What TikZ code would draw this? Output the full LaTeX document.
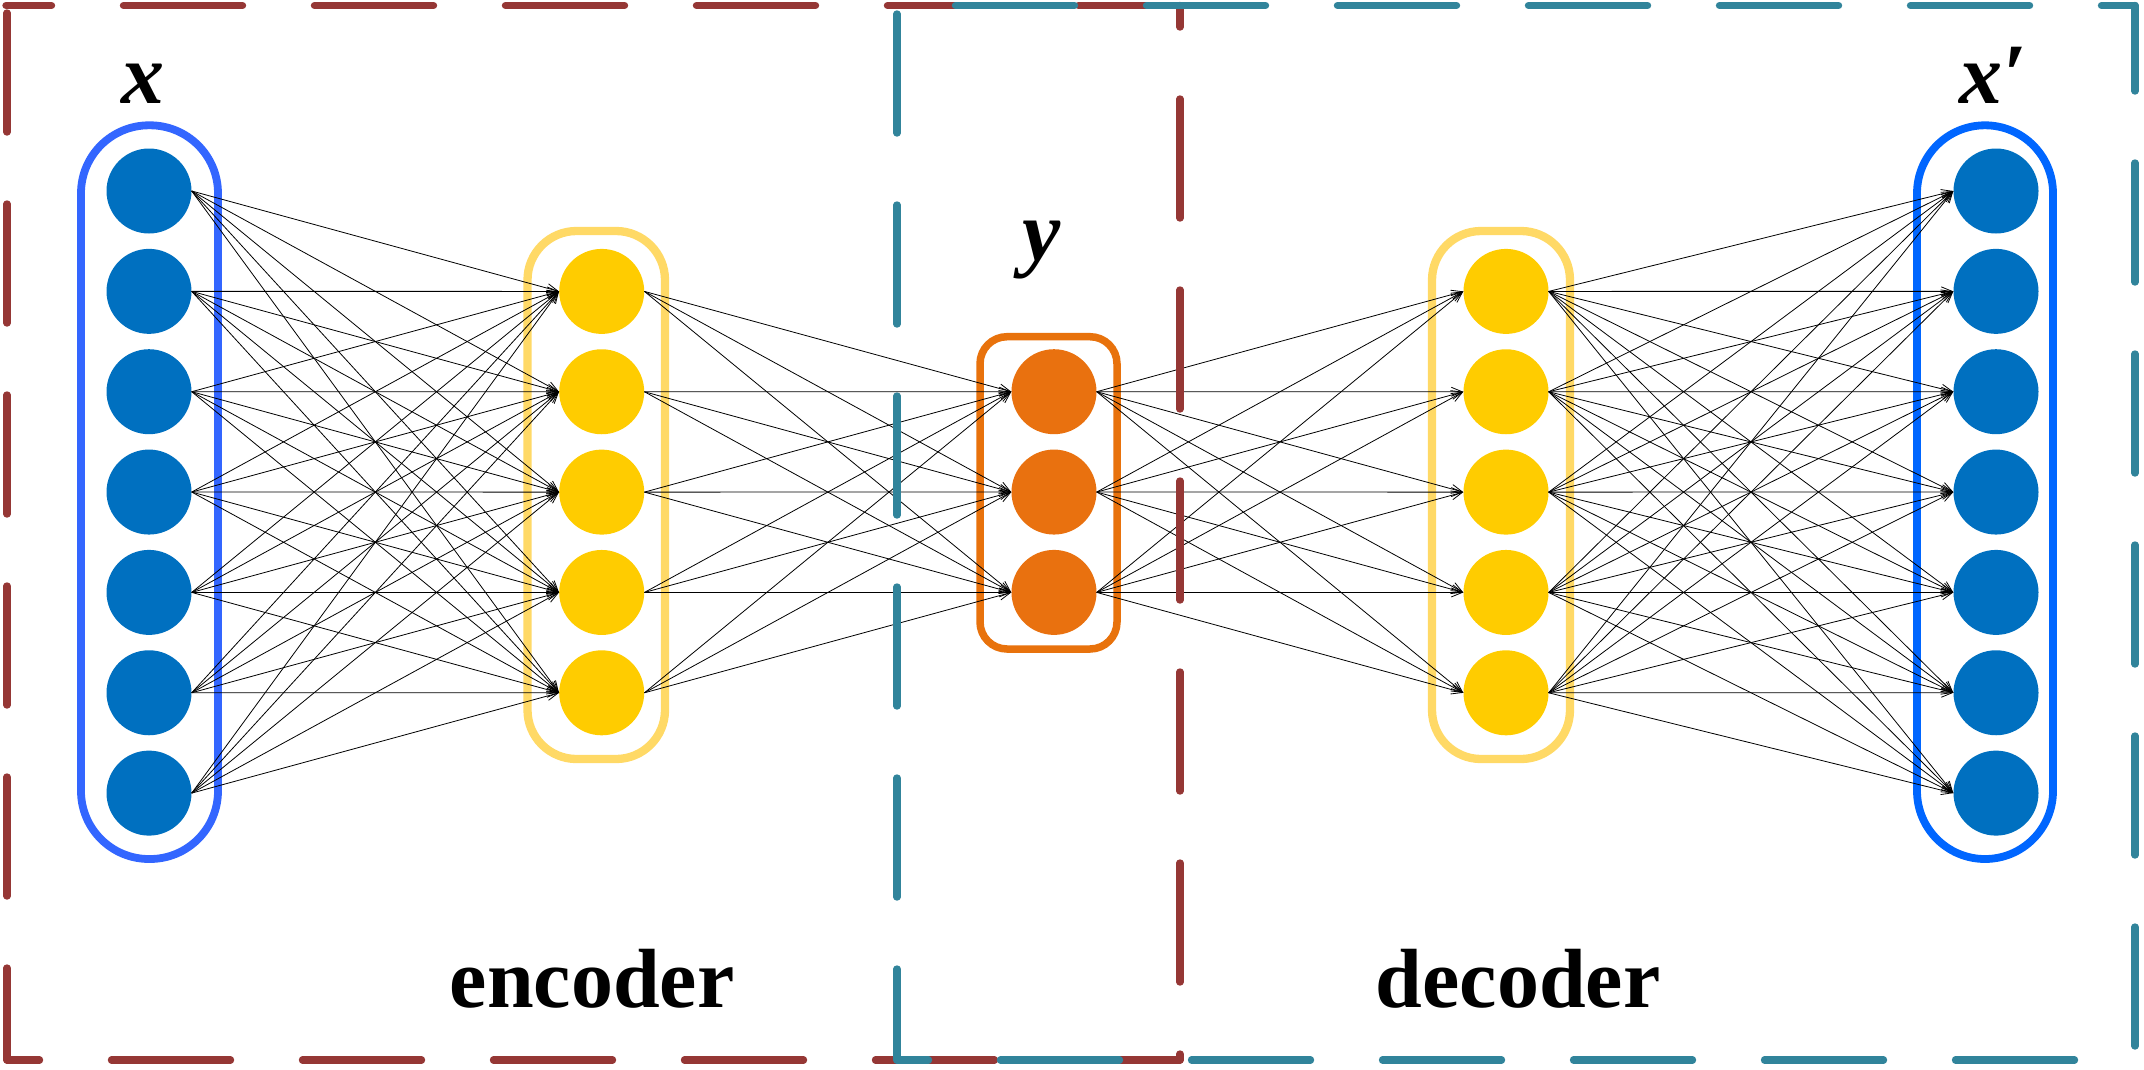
\documentclass[tikz,border=0pt]{standalone}
\usepackage{fontspec}
\setmainfont{Liberation Serif}
\usetikzlibrary{arrows.meta}
\definecolor{frRed}{HTML}{953735}
\definecolor{frTeal}{HTML}{31849B}
\definecolor{nBlue}{HTML}{0070C0}
\definecolor{capL}{HTML}{3366FF}
\definecolor{capR}{HTML}{0066FF}
\definecolor{nYel}{HTML}{FFCC00}
\definecolor{capY}{HTML}{FFD966}
\definecolor{nOra}{HTML}{E9710F}
\definecolor{capO}{HTML}{E8720C}
\begin{document}
\begin{tikzpicture}[x=1pt,y=-1pt,
  neuron/.style={circle,minimum size=85pt,inner sep=0pt,draw=none},
  capsule/.style={line width=7.8pt},
  edge/.style={line width=0.8pt,black,-{Straight Barb[length=11pt,width=9pt]}},
  dsh/.style={line width=7.4pt,line cap=round,dash pattern=on 119pt off 72pt},
  lbl/.style={font=\fontsize{86}{86}\selectfont\bfseries\itshape,anchor=base,inner sep=0pt},
  part/.style={font=\fontsize{84}{84}\selectfont\bfseries,anchor=base,inner sep=0pt}]
\useasboundingbox (0,0) rectangle (2144,1069);
% capsules
\draw[capsule,capL,rounded corners=68pt] (81,125.3) rectangle (218,859);
\draw[capsule,capY,line width=8.3pt,rounded corners=49pt] (527.5,231) rectangle (665,759);
\draw[capsule,capO,line width=7.5pt,rounded corners=27pt] (980,336.7) rectangle (1117,649);
\draw[capsule,capY,line width=8.3pt,rounded corners=49pt] (1432,231) rectangle (1570,759);
\draw[capsule,capR,rounded corners=68pt] (1917,125.3) rectangle (2053,859);
% neurons
\foreach \i in {1,...,7}{
  \node[neuron,fill=nBlue] (in\i) at (149,{191+100.35*(\i-1)}) {};
  \node[neuron,fill=nBlue] (out\i) at (1996,{191+100.35*(\i-1)}) {};
}
\foreach \i in {1,...,5}{
  \node[neuron,fill=nYel] (eh\i) at (601.7,{291.4+100.35*(\i-1)}) {};
  \node[neuron,fill=nYel] (dh\i) at (1506,{291.4+100.35*(\i-1)}) {};
}
\foreach \i in {1,...,3}{
  \node[neuron,fill=nOra] (lt\i) at (1054,{391.7+100.35*(\i-1)}) {};
}
% connections
\foreach \i in {1,...,7}{\foreach \j in {1,...,5}{\draw[edge] (in\i.east) -- (eh\j.west);}}
\foreach \i in {1,...,5}{\foreach \j in {1,...,3}{\draw[edge] (eh\i.east) -- (lt\j.west);}}
\foreach \i in {1,...,3}{\foreach \j in {1,...,5}{\draw[edge] (lt\i.east) -- (dh\j.west);}}
\foreach \i in {1,...,5}{\foreach \j in {1,...,7}{\draw[edge] (dh\i.east) -- (out\j.west);}}
% labels
\node[lbl] (lx) at (143,103) {x};
\node[lbl] (ly) at (1042,260) {y};
\node[lbl] (lxp) at (1993,103) {x′};
\node[part] (enc) at (592,1007) {encoder};
\node[part] (dec) at (1518,1007) {decoder};
% dashed frames
\draw[dsh,frRed,dash phase=73.5pt] (6,5.5) -- (1180,5.5);
\draw[dsh,frRed,dash phase=183.5pt] (7,5.5) -- (7,1060);
\draw[dsh,frRed,dash phase=86.5pt] (7,1060) -- (1180,1060);
\draw[dsh,frRed,dash phase=97.5pt] (1180,5.5) -- (1180,1060);
\draw[dsh,frTeal,dash phase=132.5pt] (897,5.5) -- (2135,5.5);
\draw[dsh,frTeal,dash phase=182.5pt] (897,5.5) -- (897,1060);
\draw[dsh,frTeal,dash phase=87.5pt] (897,1060) -- (2135,1060);
\draw[dsh,frTeal,dash phase=33.5pt] (2135,5.5) -- (2135,1060);
\end{tikzpicture}
\end{document}
